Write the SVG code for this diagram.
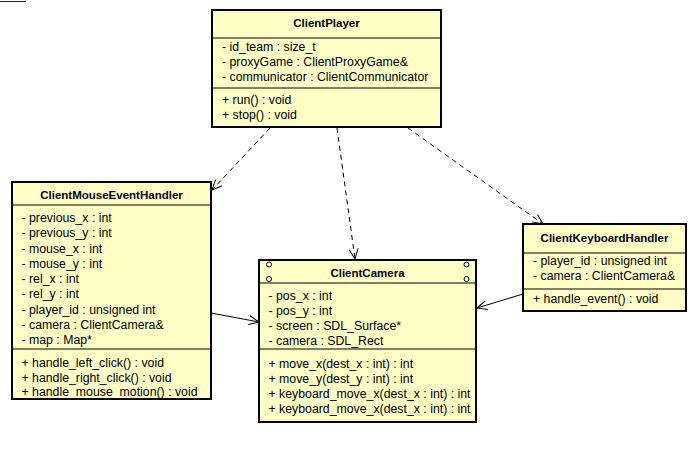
<svg xmlns="http://www.w3.org/2000/svg" width="696" height="449" viewBox="0 0 696 449">
<style>
.box{fill:#FFFFC6;stroke:#000;stroke-width:2}
.div{stroke:#000;stroke-width:1}
.t{font-family:"Liberation Sans",Arial,sans-serif;font-size:12.3px;fill:#000}
.h{font-family:"Liberation Sans",Arial,sans-serif;font-size:11.5px;font-weight:bold;fill:#000;text-anchor:middle}
.dash{fill:none;stroke:#000;stroke-width:1;stroke-dasharray:5,4}
.solid{fill:none;stroke:#000;stroke-width:1}
.port{fill:#fff;stroke:#000;stroke-width:1}
</style>
<defs>
<marker id="open" markerWidth="12" markerHeight="12" refX="11" refY="6" orient="auto" markerUnits="userSpaceOnUse">
<path d="M1,1.5 L11,6 L1,10.5" fill="none" stroke="#000" stroke-width="1"/>
</marker>
</defs>
<rect width="696" height="449" fill="#fff"/>
<line x1="0" y1="1.5" x2="26" y2="1.5" stroke="#222" stroke-width="1"/>

<g id="connectors">
<line class="dash" x1="270" y1="128" x2="212" y2="190" marker-end="url(#open)"/>
<line class="dash" x1="337" y1="128" x2="355" y2="259" marker-end="url(#open)"/>
<line class="dash" x1="408" y1="128" x2="543" y2="224" marker-end="url(#open)"/>
<line class="solid" x1="211" y1="313" x2="259" y2="322" marker-end="url(#open)"/>
<line class="solid" x1="523" y1="294" x2="477" y2="308" marker-end="url(#open)"/>
</g>

<g id="ClientPlayer">
<rect class="box" x="212" y="10" width="229" height="117"/>
<line class="div" x1="212" y1="38" x2="441" y2="38"/>
<line class="div" x1="212" y1="88" x2="441" y2="88"/>
<text class="h" x="326.5" y="27">ClientPlayer</text>
<text class="t" x="222" y="51">- id_team : size_t</text>
<text class="t" x="222" y="66">- proxyGame : ClientProxyGame&amp;</text>
<text class="t" x="222" y="81">- communicator : ClientCommunicator</text>
<text class="t" x="222" y="104">+ run() : void</text>
<text class="t" x="222" y="119">+ stop() : void</text>
</g>

<g id="ClientMouseEventHandler">
<rect class="box" x="12" y="182" width="199" height="217"/>
<line class="div" x1="12" y1="205" x2="211" y2="205"/>
<line class="div" x1="12" y1="349" x2="211" y2="349"/>
<text class="h" x="111.5" y="199">ClientMouseEventHandler</text>
<text class="t" x="21.5" y="222">- previous_x : int</text>
<text class="t" x="21.5" y="237">- previous_y : int</text>
<text class="t" x="21.5" y="252.5">- mouse_x : int</text>
<text class="t" x="21.5" y="267.5">- mouse_y : int</text>
<text class="t" x="21.5" y="283">- rel_x : int</text>
<text class="t" x="21.5" y="298">- rel_y : int</text>
<text class="t" x="21.5" y="313.5">- player_id : unsigned int</text>
<text class="t" x="21.5" y="329">- camera : ClientCamera&amp;</text>
<text class="t" x="21.5" y="344">- map : Map*</text>
<text class="t" x="21.5" y="367">+ handle_left_click() : void</text>
<text class="t" x="21.5" y="381.5">+ handle_right_click() : void</text>
<text class="t" x="21.5" y="395.5">+ handle_mouse_motion() : void</text>
</g>

<g id="ClientCamera">
<rect class="box" x="259" y="260" width="217" height="162"/>
<line class="div" x1="259" y1="283" x2="476" y2="283"/>
<line class="div" x1="259" y1="349" x2="476" y2="349"/>
<circle class="port" cx="269" cy="264.5" r="2.5"/>
<circle class="port" cx="269" cy="279" r="2.5"/>
<circle class="port" cx="466.5" cy="264.5" r="2.5"/>
<circle class="port" cx="466.5" cy="279" r="2.5"/>
<text class="h" x="367.5" y="277">ClientCamera</text>
<text class="t" x="268.5" y="300">- pos_x : int</text>
<text class="t" x="268.5" y="315">- pos_y : int</text>
<text class="t" x="268.5" y="330">- screen : SDL_Surface*</text>
<text class="t" x="268.5" y="345">- camera : SDL_Rect</text>
<text class="t" x="268.5" y="368">+ move_x(dest_x : int) : int</text>
<text class="t" x="268.5" y="383">+ move_y(dest_y : int) : int</text>
<text class="t" x="268.5" y="398">+ keyboard_move_x(dest_x : int) : int</text>
<text class="t" x="268.5" y="413">+ keyboard_move_x(dest_x : int) : int</text>
</g>

<g id="ClientKeyboardHandler">
<rect class="box" x="523" y="224" width="163" height="87"/>
<line class="div" x1="523" y1="253" x2="686" y2="253"/>
<line class="div" x1="523" y1="289" x2="686" y2="289"/>
<text class="h" x="604.5" y="242">ClientKeyboardHandler</text>
<text class="t" x="533" y="265">- player_id : unsigned int</text>
<text class="t" x="533" y="280">- camera : ClientCamera&amp;</text>
<text class="t" x="533" y="303">+ handle_event() : void</text>
</g>
</svg>
